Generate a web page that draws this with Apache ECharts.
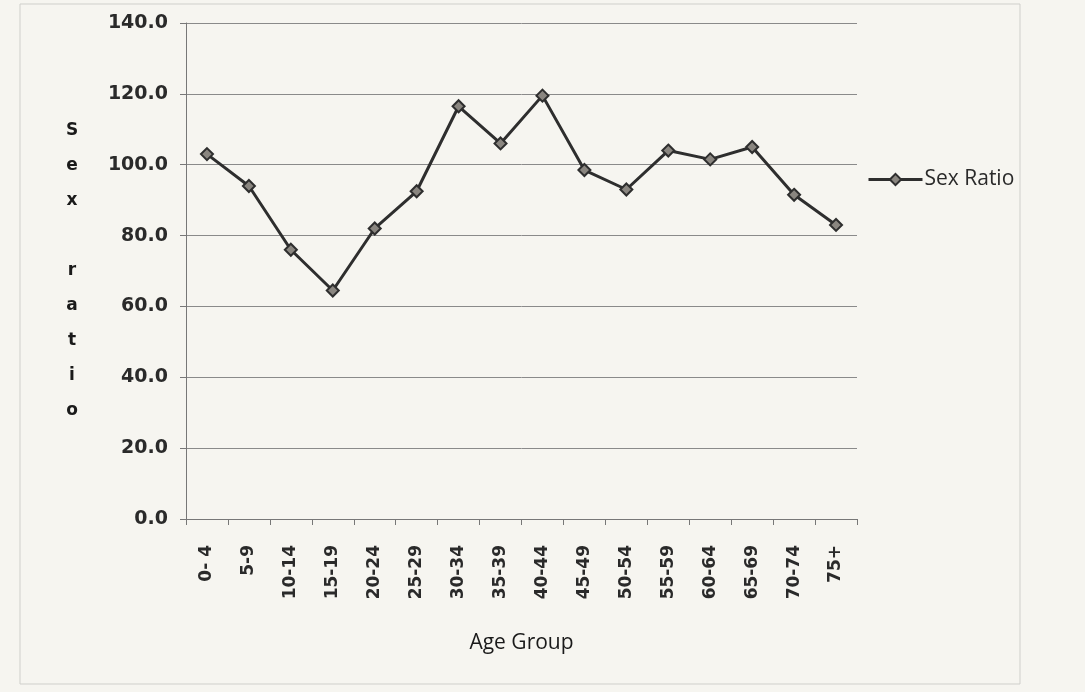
<!DOCTYPE html>
<html>
<head>
<meta charset="utf-8">
<script src="https://cdn.jsdelivr.net/npm/echarts@6/dist/echarts.min.js"></script>
<style>
  html, body { margin: 0; padding: 0; background: #f6f5f0; }
  #chart { width: 1085px; height: 692px; }
</style>
</head>
<body>
<div id="chart"></div>
<script>
// age groups on the x axis
const ageGroups = ['0- 4', '5-9', '10-14', '15-19', '20-24', '25-29', '30-34', '35-39',
  '40-44', '45-49', '50-54', '55-59', '60-64', '65-69', '70-74', '75+']
// sex ratio per age group
const sexRatio = [103.0, 94.0, 76.0, 64.5, 82.0, 92.5, 116.5, 106.0,
  119.5, 98.5, 93.0, 104.0, 101.5, 105.0, 91.5, 83.0]
const yTicks = { min: 0, max: 140, interval: 20 }

let chart = echarts.init(document.getElementById('chart'))
let option = {
  backgroundColor: '#f6f5f0',
  animation: false,
  grid: {
    left: 186,
    right: 228,
    top: 23,
    bottom: 173
  },
  legend: {
    orient: 'vertical',
    left: 862,
    top: 164,
    itemWidth: 54,
    itemHeight: 14,
    itemGap: 4,
    lineStyle: { width: 3, color: '#2e2e2e' },
    textStyle: { fontFamily: 'Open Sans', fontSize: 21, color: '#2a2a2a', padding: [0, 0, 0, -3] },
    data: ['Sex Ratio']
  },
  xAxis: {
    type: 'category',
    data: ageGroups,
    boundaryGap: true,
    name: 'Age Group',
    nameLocation: 'middle',
    nameGap: 114,
    nameTextStyle: { fontFamily: 'Open Sans', fontSize: 21, color: '#1a1a1a' },
    axisLine: { lineStyle: { color: '#777', width: 1 } },
    axisTick: { show: true, alignWithLabel: false, length: 6, lineStyle: { color: '#777' } },
    axisLabel: {
      rotate: 90,
      margin: 26,
      fontFamily: 'DejaVu Sans',
      fontWeight: 'bold',
      fontSize: 17,
      color: '#2a2a2a'
    }
  },
  yAxis: {
    type: 'value',
    min: yTicks.min,
    max: yTicks.max,
    interval: yTicks.interval,
    name: 'S\ne\nx\n\nr\na\nt\ni\no',
    nameLocation: 'middle',
    nameRotate: 0,
    nameGap: 114,
    nameTextStyle: {
      fontFamily: 'DejaVu Sans',
      fontWeight: 'bold',
      fontSize: 17,
      color: '#1a1a1a',
      lineHeight: 35,
      align: 'center'
    },
    axisLine: { show: true, lineStyle: { color: '#777', width: 1 } },
    axisTick: { show: true, length: 6, lineStyle: { color: '#777' } },
    splitLine: { lineStyle: { color: '#8a8a8a', width: 1 } },
    axisLabel: {
      margin: 18,
      fontFamily: 'DejaVu Sans',
      fontWeight: 'bold',
      fontSize: 19,
      color: '#2a2a2a',
      formatter: v => v.toFixed(1)
    }
  },
  series: [
    {
      name: 'Sex Ratio',
      type: 'line',
      data: sexRatio,
      symbol: 'diamond',
      symbolSize: 12,
      lineStyle: { color: '#2e2e2e', width: 3 },
      itemStyle: { color: '#8a8680', borderColor: '#2e2e2e', borderWidth: 2 }
    }
  ],
  graphic: [
    {
      type: 'rect',
      shape: { x: 20, y: 4, width: 1000, height: 680 },
      style: { fill: 'none', stroke: '#cfcfcb', lineWidth: 1 },
      silent: true
    }
  ]
}
chart.setOption(option, true)
</script>
</body>
</html>
